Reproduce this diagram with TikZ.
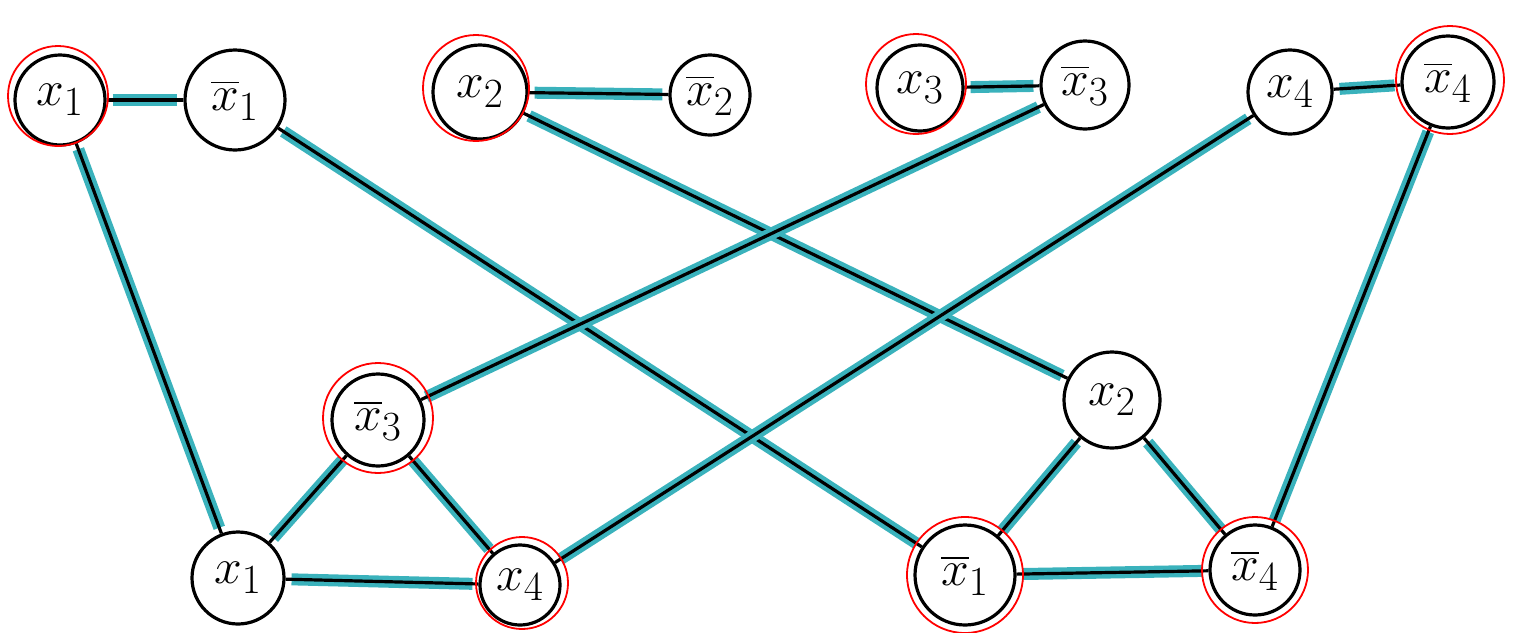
\documentclass[tikz,border=0pt]{standalone}
\usepackage{amsmath}
\usetikzlibrary{backgrounds}
\begin{document}
\begin{tikzpicture}[x=0.5pt,y=-0.5pt,
  vnode/.style={circle,draw=black,line width=1.6pt,fill=white,inner sep=0pt,font=\fontsize{30}{32}\selectfont},
  picked/.style={draw=red,line width=0.9pt},
  hl/.style={line width=6pt,draw=teal2},
  ink/.style={line width=1.6pt,draw=black}]
\definecolor{teal2}{RGB}{58,178,188}
\useasboundingbox (0,0) rectangle (1519,632);
% nodes
\node[vnode,minimum size=45pt] (x1t) at (60,100) {$x_1$};
\node[vnode,minimum size=50pt] (nx1t) at (235,100) {$\overline{x}_1$};
\node[vnode,minimum size=47pt] (x2t) at (480,92) {$x_2$};
\node[vnode,minimum size=40pt] (nx2t) at (710,95) {$\overline{x}_2$};
\node[vnode,minimum size=43pt] (x3t) at (920,88) {$x_3$};
\node[vnode,minimum size=44pt] (nx3t) at (1085,85) {$\overline{x}_3$};
\node[vnode,minimum size=42pt] (x4t) at (1290,92) {$x_4$};
\node[vnode,minimum size=46pt] (nx4t) at (1448,82) {$\overline{x}_4$};
\node[vnode,minimum size=46pt] (nx3b) at (378,420) {$\overline{x}_3$};
\node[vnode,minimum size=46pt] (x1b) at (238,578) {$x_1$};
\node[vnode,minimum size=40pt] (x4b) at (520,585) {$x_4$};
\node[vnode,minimum size=48pt] (x2b) at (1112,400) {$x_2$};
\node[vnode,minimum size=50pt] (nx1b) at (965,575) {$\overline{x}_1$};
\node[vnode,minimum size=45pt] (nx4b) at (1255,570) {$\overline{x}_4$};
% edges: teal highlight under black ink, behind the nodes
\begin{scope}[on background layer]
\foreach \a/\b in {x1t/nx1t,x2t/nx2t,x3t/nx3t,x4t/nx4t,
  x1t/x1b,nx1t/nx1b,x2t/x2b,nx3t/nx3b,x4t/x4b,nx4t/nx4b,
  x1b/nx3b,x1b/x4b,nx3b/x4b,x2b/nx1b,x2b/nx4b,nx1b/nx4b}{
  \path[hl,shorten <=3pt,shorten >=3pt] (\a) -- (\b);
  \path[ink] (\a) -- (\b);
}
\end{scope}
% red circles around chosen literals
\draw[picked] (58,96) circle (50);
\draw[picked] (476,88) circle (53);
\draw[picked] (916,84) circle (50);
\draw[picked] (1450,80) circle (54);
\draw[picked] (378,418) circle (55);
\draw[picked] (522,583) circle (46);
\draw[picked] (965,575) circle (58);
\draw[picked] (1255,570) circle (53);
\end{tikzpicture}
\end{document}
